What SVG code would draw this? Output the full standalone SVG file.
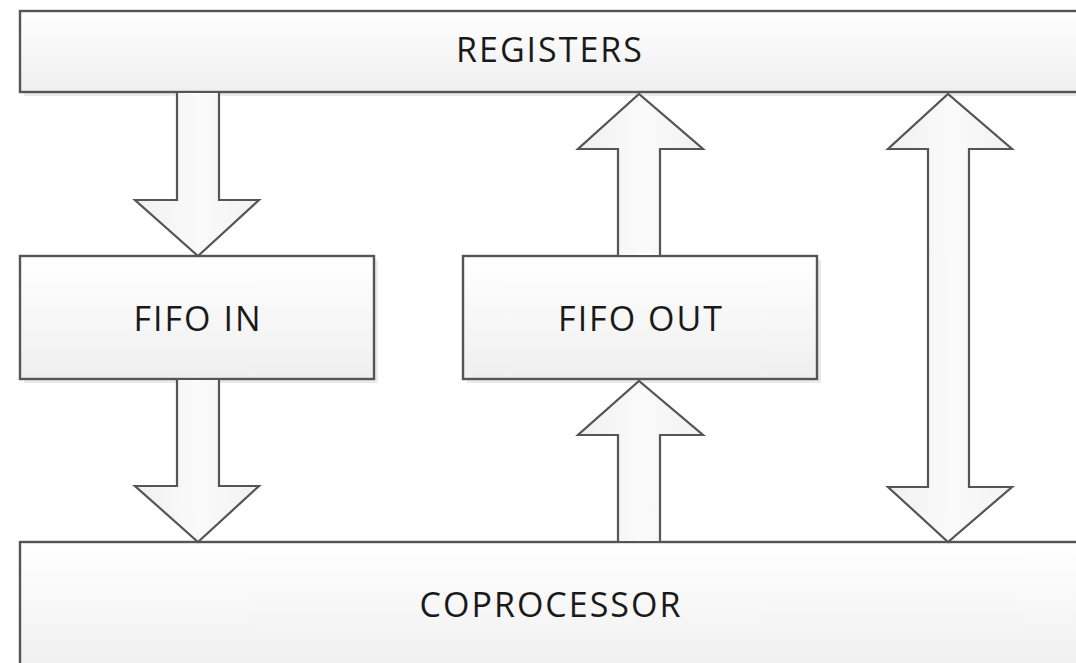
<svg xmlns="http://www.w3.org/2000/svg" width="1076" height="663" viewBox="0 0 1076 663">
<style>
.box{fill:url(#gv);stroke:#555;stroke-width:2.4}
.arr{fill:url(#gh);stroke:#555;stroke-width:2.2;stroke-linejoin:miter}
.sh{fill:#000;opacity:0.08}
text{font-family:"Open Sans","Liberation Sans",sans-serif;font-size:34px;letter-spacing:2px;fill:#1a1a1a;text-anchor:middle}
</style>
<defs>
<linearGradient id="gv" x1="0" y1="0" x2="0" y2="1"><stop offset="0" stop-color="#ffffff"/><stop offset="1" stop-color="#efefef"/></linearGradient>
<linearGradient id="gh" x1="0" y1="0" x2="1" y2="0"><stop offset="0" stop-color="#f0f0f0"/><stop offset="0.5" stop-color="#fafafa"/><stop offset="1" stop-color="#f2f2f2"/></linearGradient>
</defs>
<rect width="1076" height="663" fill="#fff"/>
<g id="shadows">
<rect class="sh" x="24" y="15" width="1060" height="81"/>
<rect class="sh" x="24" y="260" width="354" height="123"/>
<rect class="sh" x="467" y="260" width="354" height="123"/>
<rect class="sh" x="24" y="546" width="1060" height="130"/>
</g>
<g id="registers">
<rect class="box" x="20" y="11" width="1070" height="81"/>
<text x="550" y="62">REGISTERS</text>
</g>
<g id="fifo-in">
<rect class="box" x="20" y="256" width="354" height="123"/>
<text x="198" y="331">FIFO IN</text>
</g>
<g id="fifo-out">
<rect class="box" x="463" y="256" width="354" height="123"/>
<text x="641" y="331">FIFO OUT</text>
</g>
<g id="coprocessor">
<rect class="box" x="20" y="542" width="1070" height="130"/>
<text x="551" y="617">COPROCESSOR</text>
</g>
<g id="connectors">
<path class="arr" d="M177,92 L219,92 L219,200 L259,200 L198,256 L135,200 L177,200 Z"/>
<path class="arr" d="M177,379 L219,379 L219,486 L259,486 L198,542 L135,486 L177,486 Z"/>
<path class="arr" d="M618,256 L660,256 L660,149 L703,149 L639,94 L578,149 L618,149 Z"/>
<path class="arr" d="M618,542 L660,542 L660,435 L703,435 L639,381 L578,435 L618,435 Z"/>
<path class="arr" d="M928,149 L888,149 L948,94 L1012,149 L969,149 L969,487 L1012,487 L948,542 L888,487 L928,487 Z"/>
</g>
</svg>
